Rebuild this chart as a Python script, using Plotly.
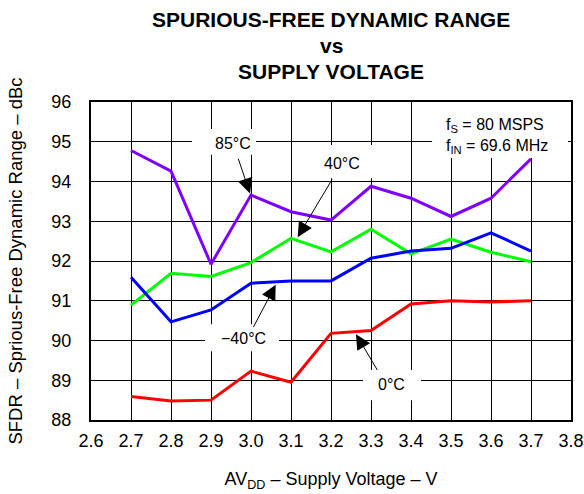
import plotly.graph_objects as go

# ---- data ----
supply_voltage = [2.7, 2.8, 2.9, 3.0, 3.1, 3.2, 3.3, 3.4, 3.5, 3.6, 3.7]
sfdr_85c = [94.78, 94.26, 91.92, 93.66, 93.24, 93.03, 93.88, 93.58, 93.12, 93.58, 94.57]
sfdr_40c = [90.89, 91.69, 91.61, 91.96, 92.57, 92.23, 92.80, 92.18, 92.55, 92.22, 91.98]
sfdr_m40c = [91.59, 90.47, 90.77, 91.44, 91.50, 91.50, 92.07, 92.25, 92.32, 92.71, 92.25]
sfdr_0c = [88.59, 88.48, 88.50, 89.23, 88.95, 90.18, 90.25, 90.92, 91.00, 90.97, 91.00]

series_names = ["85°C", "40°C", "−40°C", "0°C"]
series_values = [sfdr_85c, sfdr_40c, sfdr_m40c, sfdr_0c]
series_colors = ["#8000FF", "#00FF00", "#0000FF", "#FF0000"]

x_ticks = [2.6, 2.7, 2.8, 2.9, 3.0, 3.1, 3.2, 3.3, 3.4, 3.5, 3.6, 3.7, 3.8]
y_ticks = [88, 89, 90, 91, 92, 93, 94, 95, 96]

title_lines = ["SPURIOUS-FREE DYNAMIC RANGE", "vs", "SUPPLY VOLTAGE"]

FONT = "Liberation Sans, Arial, Helvetica, sans-serif"

fig = go.Figure()
for name, vals, col in zip(series_names, series_values, series_colors):
    fig.add_trace(go.Scatter(x=supply_voltage, y=vals, mode="lines", name=name,
                             line=dict(color=col, width=3), showlegend=False,
                             hoverinfo="skip"))

# white label boxes (above grid, below traces)
boxes = [
    (2.8525, 3.0125, 94.67, 95.32),   # 85°C
    (3.1725, 3.3275, 94.08, 94.92),   # 40°C
    (2.885, 3.07, 89.73, 90.41),      # -40°C
    (3.28, 3.425, 88.50, 89.26),      # 0°C
    (3.4525, 3.7925, 94.59, 96.0),    # fS / fIN
]
for x0, x1, y0, y1 in boxes:
    fig.add_shape(type="rect", x0=x0, x1=x1, y0=y0, y1=y1, xref="x", yref="y",
                  fillcolor="white", line=dict(width=0), layer="between")

# labels
labels = [
    ("85°C", 2.954, 94.95),
    ("40°C", 3.228, 94.46),
    ("−40°C", 2.981, 90.05),
    ("0°C", 3.352, 88.90),
]
for txt, x, y in labels:
    fig.add_annotation(x=x, y=y, text=txt, showarrow=False,
                       font=dict(family=FONT, size=16, color="black"))

# arrows: (tip_x, tip_y, tail_x, tail_y)
arrows = [
    (2.9975, 93.70, 2.967, 94.61),
    (3.1167, 92.60, 3.205, 94.09),
    (3.0617, 91.40, 3.004, 90.30),
    (3.2625, 90.16, 3.318, 89.22),
]
for tx, ty, ax, ay in arrows:
    fig.add_annotation(x=tx, y=ty, ax=ax, ay=ay, axref="x", ayref="y", text="",
                       showarrow=True, arrowhead=2, arrowsize=3, arrowwidth=1,
                       arrowcolor="black", standoff=0)

fig.add_annotation(x=3.4825, y=95.14,
                   text="f<sub>S</sub> = 80 MSPS<br>f<sub>IN</sub> = 69.6 MHz",
                   showarrow=False, align="left", xanchor="left", yanchor="middle",
                   font=dict(family=FONT, size=16, color="black"))

# title lines (paper coords; plot area spans 318 px vertically, bottom at 420 px)
for txt, py in zip(title_lines, [19.5, 45.5, 71.5]):
    fig.add_annotation(xref="paper", yref="paper", x=0.5, y=(420 - py) / 318,
                       text=f"<b>{txt}</b>", showarrow=False, xanchor="center", yanchor="middle",
                       font=dict(family=FONT, size=21, color="black"))

fig.update_layout(
    width=584, height=494,
    margin=dict(l=91, r=13, t=102, b=74, autoexpand=False),
    paper_bgcolor="white", plot_bgcolor="white",
    font=dict(family=FONT, color="black"),
    hovermode=False,
)
fig.update_xaxes(range=[2.6, 3.8], tickvals=x_ticks,
                 ticktext=[f"{v:.1f}" for v in x_ticks],
                 showgrid=True, gridcolor="black", gridwidth=1,
                 showline=True, linecolor="black", linewidth=2, mirror=True,
                 ticks="", ticklabelstandoff=3, zeroline=False, automargin=False,
                 tickfont=dict(family=FONT, size=18, color="black"),
                 title=dict(text="AV<sub>DD</sub> – Supply Voltage – V",
                            font=dict(family=FONT, size=18, color="black"),
                            standoff=23))
fig.update_yaxes(range=[88, 96], tickvals=y_ticks,
                 showgrid=True, gridcolor="black", gridwidth=1,
                 showline=True, linecolor="black", linewidth=2, mirror=True,
                 ticks="", ticklabelstandoff=14, zeroline=False, automargin=False,
                 tickfont=dict(family=FONT, size=18, color="black"),
                 title=dict(text="SFDR – Sprious-Free Dynamic Range – dBc",
                            font=dict(family=FONT, size=18.5, color="black"),
                            standoff=24))

fig.write_html("out.html", config={"displayModeBar": False},
               post_script="document.body.style.margin='0';")
